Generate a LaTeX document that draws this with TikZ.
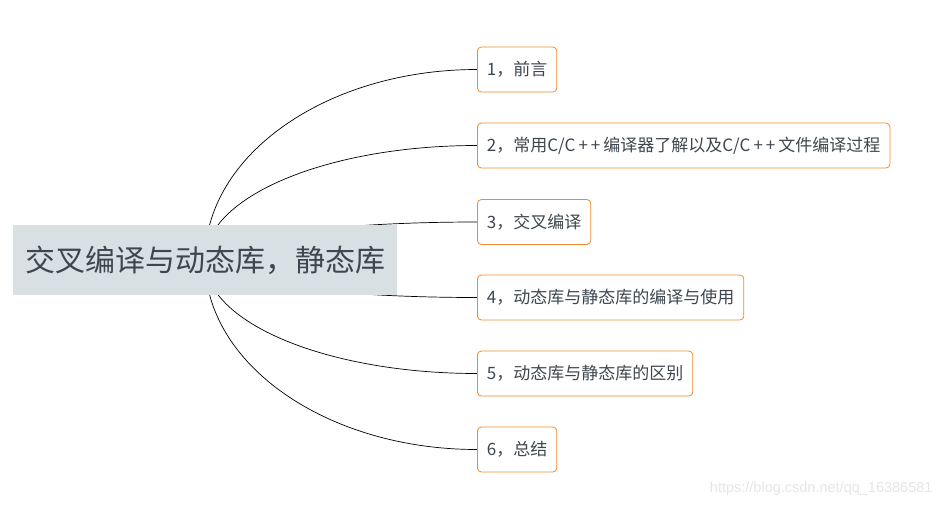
\documentclass[tikz,border=0pt]{standalone}
\usepackage{fontspec}
\newfontfamily\cjk{Noto Sans CJK SC}
\setsansfont{Liberation Sans}
\usetikzlibrary{backgrounds,calc}
\definecolor{rootfill}{HTML}{D9E0E3}
\definecolor{boxline}{HTML}{F08C2E}
\definecolor{textgray}{HTML}{3E474F}
\newcommand{\cpp}{C/C\kern3pt+\kern3pt+\kern3pt}
\tikzset{
  topic/.style={draw=boxline, line width=0.8pt, rounded corners=4pt, fill=white,
    anchor=west, minimum height=45pt, inner xsep=9.5pt, text=textgray,
    font=\cjk\fontsize{17}{20}\selectfont},
  branch/.style={black, line width=0.7pt},
}
\begin{document}
\begin{tikzpicture}[x=1pt, y=-1pt]
  \useasboundingbox (0,0) rectangle (944,506);
  \node[fill=rootfill, minimum width=384pt, minimum height=70pt, text=textgray,
    font=\cjk\fontsize{30}{34}\selectfont] (root) at (205,260) {交叉编译与动态库，静态库};
  \node[topic] (t1) at (477,69.5) {1，前言};
  \node[topic] (t2) at (477,145.5) {2，常用\cpp 编译器了解以及\cpp 文件编译过程};
  \node[topic] (t3) at (477,222) {3，交叉编译};
  \node[topic] (t4) at (477,297.5) {4，动态库与静态库的编译与使用};
  \node[topic] (t5) at (477,373.5) {5，动态库与静态库的区别};
  \node[topic] (t6) at (477,449.5) {6，总结};
  % quarter-ellipse branches, drawn behind the root
  \begin{scope}[on background layer]
    \foreach \i in {1,...,6}
      \draw[branch] (root.center)
        .. controls ($(root.center)!0.552!(root.center |- t\i.west)$)
        and ($(t\i.west)!0.552!(root.center |- t\i.west)$) .. (t\i.west);
  \end{scope}
  \node[text=black!10, font=\sffamily\fontsize{14.5}{16}\selectfont, anchor=south east]
    (url) at (936,499) {https://blog.csdn.net/qq\_16386581};
\end{tikzpicture}
\end{document}
